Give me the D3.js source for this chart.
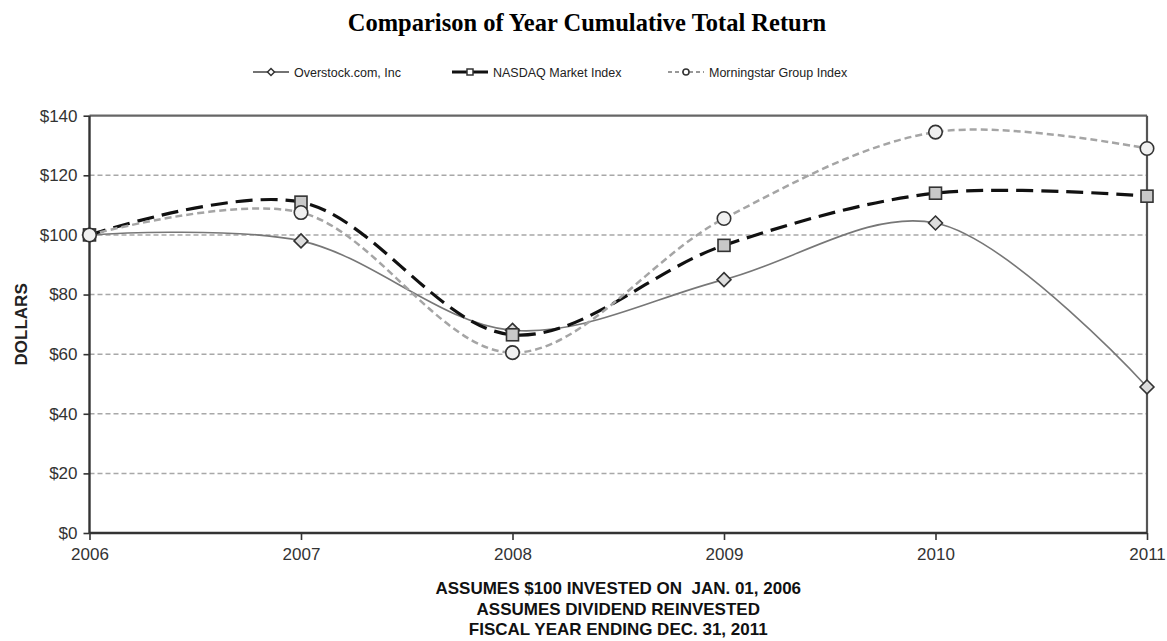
<!DOCTYPE html>
<html><head><meta charset="utf-8">
<script src="https://cdn.jsdelivr.net/npm/d3@7"></script>
<style>body{margin:0;background:#fff;}svg{display:block;}</style>
</head><body>
<svg id="chart" width="1167" height="641"></svg>
<script>
const years = [2006, 2007, 2008, 2009, 2010, 2011];
const overstock = [100, 98, 68, 85, 104, 49];
const nasdaq = [100, 111, 66.5, 96.5, 114, 113];
const morningstar = [100, 107.5, 60.5, 105.5, 134.5, 129];
const yTicks = [0, 20, 40, 60, 80, 100, 120, 140];
const seriesNames = ["Overstock.com, Inc", "NASDAQ Market Index", "Morningstar Group Index"];
const footnotes = ["ASSUMES $100 INVESTED ON  JAN. 01, 2006", "ASSUMES DIVIDEND REINVESTED", "FISCAL YEAR ENDING DEC. 31, 2011"];

const svg = d3.select("#chart");
const m = {l: 89.5, r: 1147, t: 115.7, b: 533};
const x = d3.scaleLinear().domain([2006, 2011]).range([m.l, m.r]);
const y = d3.scaleLinear().domain([0, 140]).range([m.b, m.t]);
const sans = "'Liberation Sans', Arial, Helvetica, sans-serif";

// title
svg.append("text").attr("x", 587).attr("y", 31).attr("text-anchor", "middle")
  .attr("font-family", "'Liberation Serif', 'Times New Roman', serif").attr("font-weight", "bold")
  .attr("font-size", 24.5).attr("fill", "#000").style("white-space", "pre")
  .text("Comparison of Year Cumulative Total Return");

// grid
svg.append("g").selectAll("line").data(yTicks.filter(v => v > 0 && v < 140)).join("line")
  .attr("x1", m.l).attr("x2", m.r).attr("y1", d => y(d)).attr("y2", d => y(d))
  .attr("stroke", "#a8a8a8").attr("stroke-width", 1.5).attr("stroke-dasharray", "5,3");

// frame top / right
svg.append("line").attr("x1", m.l).attr("x2", m.r).attr("y1", y(140)).attr("y2", y(140)).attr("stroke", "#666").attr("stroke-width", 2.2);
svg.append("line").attr("x1", m.r).attr("x2", m.r).attr("y1", y(140)).attr("y2", y(0)).attr("stroke", "#555").attr("stroke-width", 2.2);

// axes
const yAxis = d3.axisLeft(y).tickValues(yTicks).tickFormat(d => "$" + d).tickSize(6).tickPadding(6);
const gy = svg.append("g").attr("transform", `translate(${m.l},0)`).call(yAxis);
const xAxis = d3.axisBottom(x).tickValues(years).tickFormat(d3.format("d")).tickSize(7).tickPadding(8);
const gx = svg.append("g").attr("transform", `translate(0,${m.b})`).call(xAxis);
[gy, gx].forEach(g => {
  g.select(".domain").attr("stroke", "#333").attr("stroke-width", 2.4);
  g.selectAll(".tick line").attr("stroke", "#333").attr("stroke-width", 1.6);
  g.selectAll(".tick text").attr("font-family", sans).attr("font-size", 17).attr("fill", "#333");
});
gy.select(".domain").attr("d", `M0,${y(140)}V${y(0)}`);
gx.select(".domain").attr("d", `M${m.l},0H${m.r}`);

// y title
svg.append("text").attr("transform", `translate(27,${(m.t + m.b) / 2}) rotate(-90)`)
  .attr("text-anchor", "middle").attr("font-family", sans).attr("font-weight", "bold")
  .attr("font-size", 17).attr("fill", "#222").text("DOLLARS");

// footnotes
svg.append("g").selectAll("text").data(footnotes).join("text")
  .attr("x", (m.l + m.r) / 2).attr("y", (d, i) => 594 + i * 20.5).attr("text-anchor", "middle")
  .attr("font-family", sans).attr("font-weight", "bold").attr("font-size", 17).attr("fill", "#111")
  .style("white-space", "pre").text(d => d);

const styles = [
  {data: overstock, stroke: "#777", width: 1.6, dash: null, marker: "diamond", fill: "#ddd"},
  {data: nasdaq, stroke: "#111", width: 3.2, dash: "17,8", marker: "square", fill: "#c8c8c8"},
  {data: morningstar, stroke: "#a5a5a5", width: 2.5, dash: "7,4", marker: "circle", fill: "#f0f0f0"}
];
const line = d3.line().x(d => x(d[0])).y(d => y(d[1])).curve(d3.curveCatmullRom.alpha(0.5));

styles.forEach(s => {
  const pts = years.map((yr, i) => [yr, s.data[i]]);
  svg.append("path").attr("d", line(pts)).attr("fill", "none").attr("stroke", s.stroke)
    .attr("stroke-width", s.width).attr("stroke-dasharray", s.dash);
});

function marker(g, type, cx, cy, size, fill, sw) {
  if (type === "circle") {
    g.append("circle").attr("cx", cx).attr("cy", cy).attr("r", size / 2).attr("fill", fill).attr("stroke", "#333").attr("stroke-width", sw);
  } else if (type === "square") {
    g.append("rect").attr("x", cx - size / 2).attr("y", cy - size / 2).attr("width", size).attr("height", size).attr("fill", fill).attr("stroke", "#333").attr("stroke-width", sw);
  } else {
    const h = size * 0.58;
    g.append("path").attr("d", `M${cx},${cy - h}L${cx + h},${cy}L${cx},${cy + h}L${cx - h},${cy}Z`).attr("fill", fill).attr("stroke", "#333").attr("stroke-width", sw);
  }
}
const mg = svg.append("g");
styles.forEach(s => {
  years.forEach((yr, i) => marker(mg, s.marker, x(yr), y(s.data[i]), s.marker === "circle" ? 13.5 : 12, s.fill, 1.6));
});

// legend
const legX = [253, 452, 668];
const lg = svg.append("g");
styles.forEach((s, i) => {
  const lx = legX[i], ly = 72;
  lg.append("line").attr("x1", lx).attr("x2", lx + 36).attr("y1", ly).attr("y2", ly)
    .attr("stroke", i === 0 ? "#444" : (i === 1 ? "#111" : "#777")).attr("stroke-width", i === 1 ? 2.8 : 1.5)
    .attr("stroke-dasharray", i === 2 ? "4,3" : null);
  marker(lg, s.marker, lx + 18, ly, 6, "#fff", 1.5);
  lg.append("text").attr("x", lx + 41).attr("y", ly + 4.5).attr("font-family", sans).attr("font-size", 12.5)
    .attr("fill", "#222").text(seriesNames[i]);
});
</script>
</body></html>
